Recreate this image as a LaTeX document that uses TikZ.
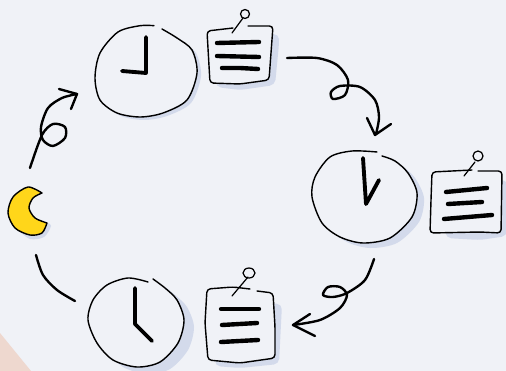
\documentclass[tikz,border=0pt]{standalone}
\usepackage{tikz}
\usetikzlibrary{arrows,calc}

\definecolor{paper}{HTML}{F0F2F7}
\definecolor{shadowblue}{HTML}{D3DAEB}
\definecolor{peach}{HTML}{EED8CF}
\definecolor{moonyellow}{HTML}{FFD61A}

\tikzset{
	outline/.style={line width=.8pt,line cap=round,line join=round},
	curl/.style={line width=1.35pt,line cap=round,line join=round},
	hand/.style={line width=2.2pt,line cap=round,line join=round},
	bar/.style={line width=2.5pt,line cap=round},
	pin/.style={line width=.7pt,line cap=round}
}

% Shadow, face and outline of a hand drawn circle
\newcommand{\sketchface}[2]{
	\fill[shadowblue,shift={(#1)}] plot[smooth cycle] coordinates {#2};
	\fill[paper] plot[smooth cycle] coordinates {#2};
	\draw[outline] plot[smooth] coordinates {#2};
}

\begin{document}
\begin{tikzpicture}[x=.02cm,y=-.02cm]
	% The background
	\fill[paper] (0,0) rectangle (506,371);
	\useasboundingbox (0,0) rectangle (506,371);
	\fill[peach] (0,333) -- (31,371) -- (0,371) -- cycle;

	% The moon
	\fill[shadowblue] plot[smooth] coordinates {(18,230) (30,239) (44,237) (51,226) (46,222)} -- (40,232) -- cycle;
	\filldraw[outline,fill=moonyellow] plot[smooth] coordinates {(42,193) (28,187) (13,197) (8,213) (15,228) (30,235) (42,233) (47,223)}
		-- plot[smooth] coordinates {(47,223) (35,218) (29,208) (33,198) (42,193)} -- cycle;

	% The first clock
	\sketchface{4,3}{(154,25.7) (140,25.7) (118,32) (100,53) (95,78) (100,100) (117,113) (140,117) (163,113) (187,100) (197,73) (192,50) (177,38) (162,29)}
	\draw[hand] (146,37) -- (146,73) -- (122,71);

	% The first note
	\fill[shadowblue,rounded corners=3] (212,36) -- (279,34) -- (279,44) -- (275,85) -- (240,90) -- (216,87) -- cycle;
	\filldraw[outline,fill=paper,rounded corners=2] (233,28) -- (207,31) -- (210,83) -- (240,84) -- (269,80) -- (273,26) -- (248,26);
	\draw[pin] (232,33) -- (243,18);
	\draw[pin] (245,14) circle[radius=4.5];
	\draw[bar] (217,43) -- (259,42);
	\draw[bar] (217,56) -- (259,57);
	\draw[bar] (222,68) -- (240,68) -- (258,69);

	% The arrow to the second clock
	\draw[curl] plot[smooth] coordinates {(287,58) (317,58) (337,65) (348,80) (345,95) (333,99) (331,92) (340,86) (360,87) (375,100) (379,117) (376,134)};
	\draw[curl] (367,118) -- (375,135) -- (391,124);

	% The second clock
	\sketchface{7,5}{(377,152) (352,151) (330,157) (315,177) (312,197) (322,223) (340,237) (363,243) (390,238) (412,217) (417,193) (408,173) (395,161) (382,156)}
	\draw[hand] (363,158) -- (366,204) -- (379,180);

	% The second note
	\fill[shadowblue,rounded corners=3] (440,180) -- (507,180) -- (507,236) -- (480,240) -- (446,238) -- cycle;
	\filldraw[outline,fill=paper,rounded corners=2] (472,170) -- (432,172) -- (431,200) -- (430,233) -- (480,232) -- (501,233) -- (502,171) -- (478,171);
	\draw[pin] (464,176) -- (475,162);
	\draw[pin] (478,156) circle[radius=5];
	\draw[bar] (446,192) -- (487,188);
	\draw[bar] (448,204) -- (482,202);
	\draw[bar] (444,219) -- (492,215);

	% The arrow to the third clock
	\draw[curl] plot[smooth] coordinates {(374,259) (365,280) (347,293) (333,297) (323,295) (328,287) (340,287) (347,295) (340,308) (320,320) (293,325)};
	\draw[curl] (310,314) -- (293,325) -- (315,336);

	% The third clock
	\sketchface{10,7}{(148,282) (128,278) (107,285) (93,300) (88,320) (97,343) (113,360) (137,367) (160,362) (178,343) (184,320) (177,300) (165,288) (153,279)}
	\draw[hand] (135,288) -- (135,324) -- (152,341);

	% The third note
	\fill[shadowblue,rounded corners=3] (214,300) -- (282,304) -- (279,364) -- (240,368) -- (215,366) -- cycle;
	\filldraw[outline,fill=paper,rounded corners=2] (250,289) -- (233,287) -- (207,289) -- (205,323) -- (208,360) -- (240,363) -- (275,358) -- (275,327) -- (273,293) -- (257,291);
	\draw[pin] (232,296) -- (248,277);
	\draw[pin] (249,273) circle[x radius=6,y radius=5];
	\draw[bar] (221,309) -- (259,309);
	\draw[bar] (222,325) -- (257,323);
	\draw[bar] (221,342) -- (258,340);

	% The arrows from the moon and back to it
	\draw[curl] plot[smooth] coordinates {(30,168) (42,135) (53,124) (65,127) (65,138) (53,146) (43,140) (41,127) (48,108) (62,98) (77,94)};
	\draw[curl] (59,89) -- (77,94) -- (71,109);
	\draw[curl] plot[smooth] coordinates {(36,255) (43,275) (57,290) (75,301)};
\end{tikzpicture}
\end{document}
